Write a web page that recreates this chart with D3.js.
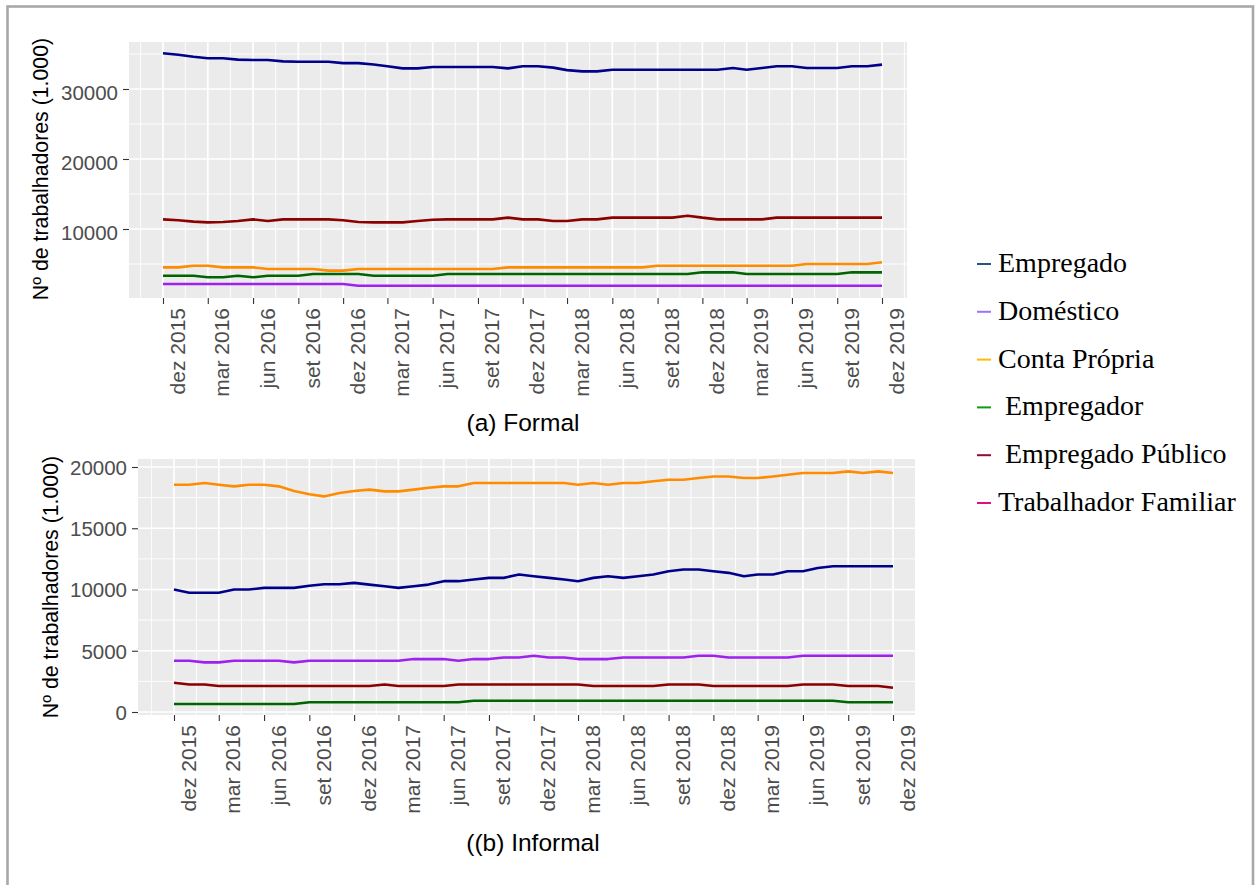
<!DOCTYPE html>
<html lang="pt">
<head>
<meta charset="utf-8">
<script src="https://cdn.jsdelivr.net/npm/d3@7"></script>
<style>
  html, body { margin: 0; padding: 0; background: #fff; }
  svg { display: block; }
  .legend text { white-space: pre; }
</style>
</head>
<body>
<svg id="chart" width="1258" height="885"></svg>
<script>
// Monthly series, dez 2015 .. dez 2019 (49 months), thousands of workers
const monthCount = 49;
const tickLabels = ["dez 2015","mar 2016","jun 2016","set 2016","dez 2016","mar 2017","jun 2017","set 2017",
  "dez 2017","mar 2018","jun 2018","set 2018","dez 2018","mar 2019","jun 2019","set 2019","dez 2019"];

// (a) Formal
const formalEmpregado = [35100,34900,34600,34400,34400,34200,34150,34150,33950,33900,
  33900,33900,33700,33700,33500,33250,32950,32950,33150,33150,
  33150,33150,33150,32950,33240,33240,33050,32700,32520,32520,
  32760,32760,32760,32760,32760,32760,32760,32760,33000,32760,
  33000,33240,33240,33000,33000,33000,33240,33240,33480];
const formalDomestico = [2140,2140,2140,2140,2140,2140,2140,2140,2140,2140,
  2140,2140,2140,1900,1900,1900,1900,1900,1900,1900,
  1900,1900,1900,1900,1900,1900,1900,1900,1900,1900,
  1900,1900,1900,1900,1900,1900,1900,1900,1900,1900,
  1900,1900,1900,1900,1900,1900,1900,1900,1900];
const formalContaPropria = [4520,4520,4760,4760,4520,4520,4520,4290,4290,4290,
  4290,4050,4050,4290,4290,4290,4290,4290,4290,4290,
  4290,4290,4290,4520,4520,4520,4520,4520,4520,4520,
  4520,4520,4520,4760,4760,4760,4760,4760,4760,4760,
  4760,4760,4760,5000,5000,5000,5000,5000,5240];
const formalEmpregador = [3330,3330,3330,3100,3100,3330,3100,3330,3330,3330,
  3570,3570,3570,3570,3330,3330,3330,3330,3330,3570,
  3570,3570,3570,3570,3570,3570,3570,3570,3570,3570,
  3570,3570,3570,3570,3570,3570,3810,3810,3810,3570,
  3570,3570,3570,3570,3570,3570,3810,3810,3810];
const formalPublico = [11380,11250,11050,10950,11000,11140,11380,11140,11380,11380,
  11380,11380,11250,11000,10950,10950,10950,11140,11330,11380,
  11380,11380,11380,11620,11380,11380,11140,11140,11380,11380,
  11620,11620,11620,11620,11620,11900,11620,11380,11380,11380,
  11380,11620,11620,11620,11620,11620,11620,11620,11620];

// (b) Informal
const informalEmpregado = [10000,9730,9730,9730,10000,10000,10130,10130,10130,10300,
  10430,10430,10540,10400,10270,10130,10270,10400,10680,10680,
  10810,10950,10950,11220,11080,10950,10810,10680,10950,11080,
  10950,11080,11220,11490,11630,11630,11490,11360,11080,11220,
  11220,11490,11490,11760,11900,11900,11900,11900,11900];
const informalDomestico = [4180,4180,4050,4050,4180,4180,4180,4180,4050,4180,
  4180,4180,4180,4180,4180,4180,4320,4320,4320,4180,
  4320,4320,4450,4450,4590,4450,4450,4320,4320,4320,
  4450,4450,4450,4450,4450,4590,4590,4450,4450,4450,
  4450,4450,4590,4590,4590,4590,4590,4590,4590];
const informalContaPropria = [18550,18550,18690,18550,18420,18550,18550,18420,18040,17770,
  17600,17880,18040,18150,18010,18010,18150,18310,18420,18420,
  18690,18690,18690,18690,18690,18690,18690,18550,18690,18550,
  18690,18690,18830,18960,18960,19100,19230,19230,19100,19100,
  19230,19370,19510,19510,19510,19640,19510,19640,19510];
const informalEmpregador = [650,650,650,650,650,650,650,650,650,790,
  790,790,790,790,790,790,790,790,790,790,
  920,920,920,920,920,920,920,920,920,920,
  920,920,920,920,920,920,920,920,920,920,
  920,920,920,920,920,790,790,790,790];
const informalPublico = [2390,2250,2250,2120,2120,2120,2120,2120,2120,2120,
  2120,2120,2120,2120,2250,2120,2120,2120,2120,2250,
  2250,2250,2250,2250,2250,2250,2250,2250,2120,2120,
  2120,2120,2120,2250,2250,2250,2120,2120,2120,2120,
  2120,2120,2250,2250,2250,2120,2120,2120,1980];

const lineColors = {
  empregado: "#00008B", domestico: "#A020F0", contaPropria: "#FF8C00",
  empregador: "#006400", publico: "#8B0000"
};

const legendLabels = ["Empregado", "Doméstico", "Conta Própria", " Empregador", " Empregado Público", "Trabalhador Familiar"];
const legendColors = ["#2b5080", "#9a74f8", "#ffbb00", "#109c10", "#8e0c36", "#e0107e"];

const months = d3.range(monthCount).map(i => new Date(2015, 11 + i, 1));
const tickDates = months.filter((d, i) => i % 3 === 0);

const svg = d3.select("#chart");

// outer frame
svg.append("rect")
  .attr("x", 7.5).attr("y", 6.5).attr("width", 1245.5).attr("height", 900)
  .attr("fill", "none").attr("stroke", "#a8a8a8").attr("stroke-width", 2.6);

function drawPanel(cfg) {
  const g = svg.append("g");
  const x = d3.scaleTime().domain([months[0], months[monthCount - 1]]).range(cfg.xRange);
  const y = d3.scaleLinear().domain(cfg.yDomain).range([cfg.bottom, cfg.top]);

  g.append("rect")
    .attr("x", cfg.left).attr("y", cfg.top)
    .attr("width", cfg.right - cfg.left).attr("height", cfg.bottom - cfg.top)
    .attr("fill", "#EBEBEB");

  // minor grid
  const tickPx = tickDates.map(d => x(d));
  const minorX = [tickPx[0] - (tickPx[1] - tickPx[0]) / 2];
  for (let i = 0; i < tickPx.length - 1; i++) minorX.push((tickPx[i] + tickPx[i + 1]) / 2);
  minorX.push(tickPx[tickPx.length - 1] + (tickPx[1] - tickPx[0]) / 2);
  g.selectAll(".minx").data(minorX.filter(v => v > cfg.left && v < cfg.right)).join("line")
    .attr("x1", d => d).attr("x2", d => d).attr("y1", cfg.top).attr("y2", cfg.bottom)
    .attr("stroke", "#fff").attr("stroke-width", 0.9);
  g.selectAll(".miny").data(cfg.yMinor).join("line")
    .attr("x1", cfg.left).attr("x2", cfg.right).attr("y1", d => y(d)).attr("y2", d => y(d))
    .attr("stroke", "#fff").attr("stroke-width", 0.9);
  // major grid
  g.selectAll(".majx").data(tickDates).join("line")
    .attr("x1", d => x(d)).attr("x2", d => x(d)).attr("y1", cfg.top).attr("y2", cfg.bottom)
    .attr("stroke", "#fff").attr("stroke-width", 1.7);
  g.selectAll(".majy").data(cfg.yTicks).join("line")
    .attr("x1", cfg.left).attr("x2", cfg.right).attr("y1", d => y(d)).attr("y2", d => y(d))
    .attr("stroke", "#fff").attr("stroke-width", 1.7);

  // series
  const line = d3.line().x((d, i) => x(months[i])).y(d => y(d));
  cfg.series.forEach(s => {
    g.append("path").datum(s.values)
      .attr("d", line).attr("fill", "none")
      .attr("stroke", s.color).attr("stroke-width", 2.6)
      .attr("stroke-linejoin", "round").attr("stroke-linecap", "butt");
  });

  // y axis
  const yAxis = g.append("g").attr("transform", `translate(${cfg.left},0)`)
    .call(d3.axisLeft(y).tickValues(cfg.yTicks).tickSize(6).tickPadding(5).tickFormat(d3.format("d")));
  yAxis.select(".domain").remove();
  yAxis.selectAll(".tick line").attr("stroke", "#333").attr("stroke-width", 1.1);
  yAxis.selectAll(".tick text").attr("fill", "#4D4D4D")
    .attr("font-family", "'Liberation Sans', Arial, sans-serif").attr("font-size", 20.5)
    .attr("dy", cfg.yLabelDy);

  // x axis
  const xAxis = g.append("g").attr("transform", `translate(0,${cfg.bottom})`)
    .call(d3.axisBottom(x).tickValues(tickDates).tickSize(6).tickFormat((d, i) => tickLabels[i]));
  xAxis.select(".domain").remove();
  xAxis.selectAll(".tick line").attr("stroke", "#333").attr("stroke-width", 1.1);
  xAxis.selectAll(".tick text")
    .attr("fill", "#4D4D4D")
    .attr("font-family", "'Liberation Sans', Arial, sans-serif").attr("font-size", 21)
    .attr("text-anchor", "end").attr("y", 0).attr("dy", 0)
    .attr("transform", "translate(21,10) rotate(-90)");

  // axis title
  g.append("text")
    .attr("transform", `translate(${cfg.titleX},${cfg.titleY}) rotate(-90)`)
    .attr("text-anchor", "middle")
    .attr("font-family", "'Liberation Sans', Arial, sans-serif").attr("font-size", 21.3)
    .attr("fill", "#000")
    .text("Nº de trabalhadores (1.000)");

  // caption
  g.append("text")
    .attr("x", cfg.capX).attr("y", cfg.capY).attr("text-anchor", "middle")
    .attr("font-family", "'Liberation Sans', Arial, sans-serif").attr("font-size", 24.5)
    .attr("fill", "#000").text(cfg.caption);
}

drawPanel({
  left: 129, right: 907, top: 42, bottom: 298,
  xRange: [163, 882],
  yDomain: [143, 36714],
  yTicks: [10000, 20000, 30000],
  yMinor: [5000, 15000, 25000, 35000],
  yLabelDy: "0.5em",
  titleX: 48, titleY: 169,
  capX: 523, capY: 431, caption: "(a) Formal",
  series: [
    { values: formalEmpregado, color: lineColors.empregado },
    { values: formalDomestico, color: lineColors.domestico },
    { values: formalContaPropria, color: lineColors.contaPropria },
    { values: formalEmpregador, color: lineColors.empregador },
    { values: formalPublico, color: lineColors.publico }
  ]
});

drawPanel({
  left: 138, right: 915, top: 459, bottom: 715,
  xRange: [174, 893],
  yDomain: [-245, 20653],
  yTicks: [0, 5000, 10000, 15000, 20000],
  yMinor: [2500, 7500, 12500, 17500],
  yLabelDy: "0.36em",
  titleX: 58, titleY: 587,
  capX: 533, capY: 851, caption: "((b) Informal",
  series: [
    { values: informalEmpregado, color: lineColors.empregado },
    { values: informalDomestico, color: lineColors.domestico },
    { values: informalContaPropria, color: lineColors.contaPropria },
    { values: informalEmpregador, color: lineColors.empregador },
    { values: informalPublico, color: lineColors.publico }
  ]
});

// legend
const legendRowY = d3.scaleLinear().domain([0, legendLabels.length - 1]).range([272, 511]);
const legend = svg.append("g").attr("class", "legend");
const rows = legend.selectAll("g").data(legendLabels).join("g")
  .attr("transform", (d, i) => `translate(0,${legendRowY(i)})`);
rows.append("line")
  .attr("x1", 977).attr("x2", 991).attr("y1", -8).attr("y2", -8)
  .attr("stroke", (d, i) => legendColors[i]).attr("stroke-width", 2);
rows.append("text")
  .attr("x", 998).attr("y", 0)
  .attr("font-family", "'Liberation Serif', 'Times New Roman', serif").attr("font-size", 28)
  .attr("fill", "#000")
  .text(d => d);
</script>
</body>
</html>
